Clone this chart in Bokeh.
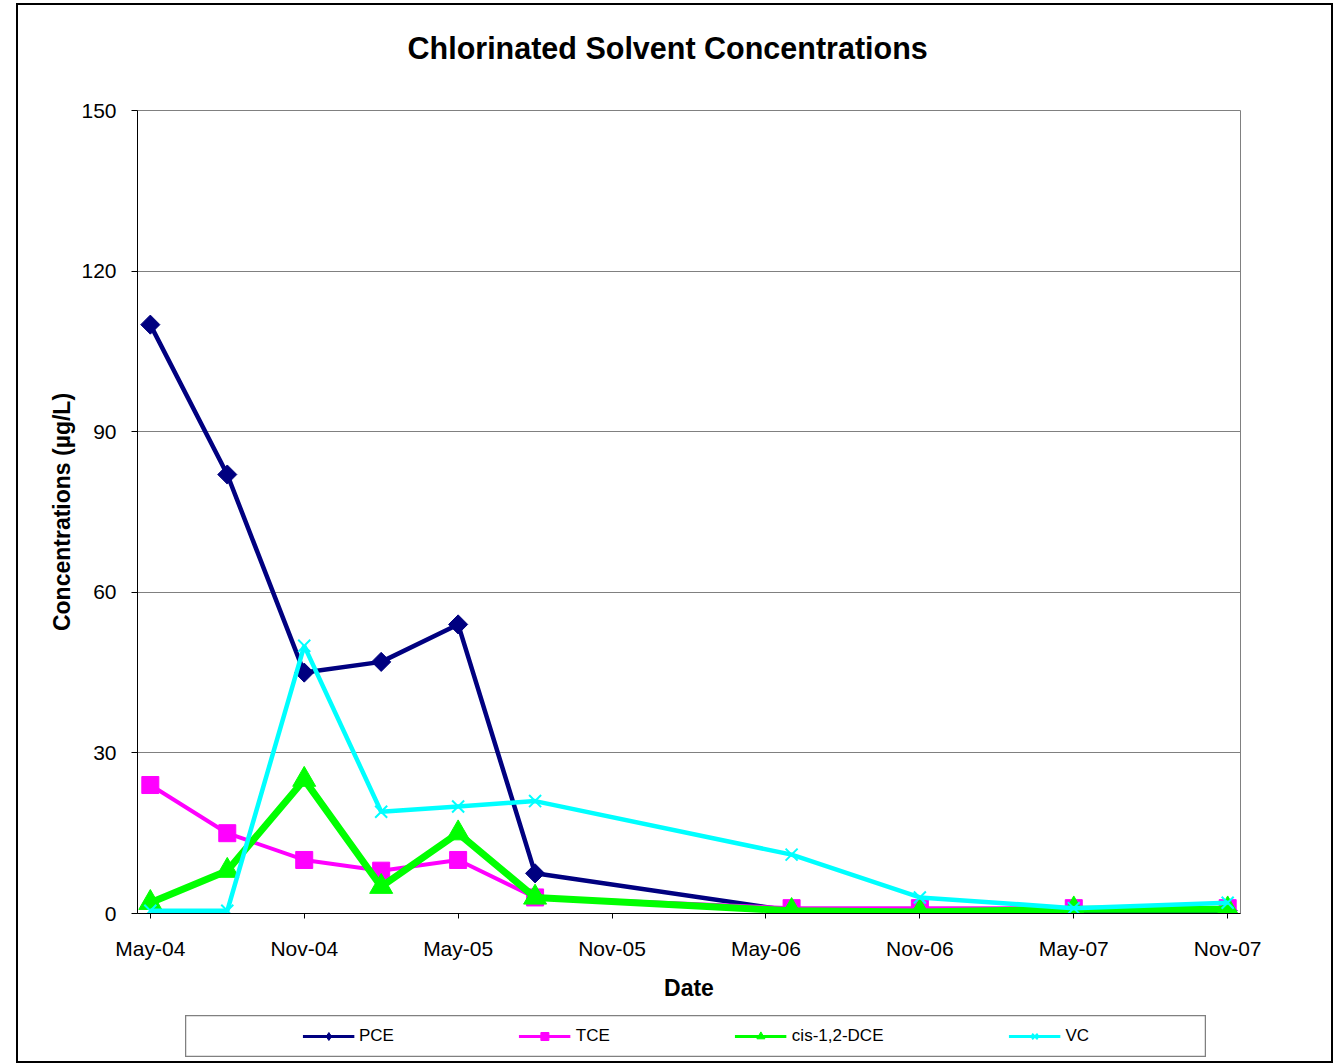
import math
from bokeh.plotting import figure
from bokeh.layouts import column, row
from bokeh.models import (ColumnDataSource, Legend, LegendItem, FixedTicker,
                          Range1d, Spacer, Title)
from bokeh.embed import file_html
from bokeh.resources import INLINE

# months since May-2004
months = [0, 3, 6, 9, 12, 15, 25, 30, 36, 42]
pce = [110, 82, 45, 47, 54, 7.5, 0.5, 0.5, 0.5, 0.5]
tce = [24, 15, 10, 8, 10, 3, 1, 1, 1, 1]
dce = [2, 8, 25, 5, 15, 3, 0.5, 0.3, 0.8, 0.8]
vc = [0.5, 0.5, 50, 19, 20, 21, 11, 3, 1, 2]

tick_months = [0, 6, 12, 18, 24, 30, 36, 42]
tick_labels = ["May-04", "Nov-04", "May-05", "Nov-05", "May-06", "Nov-06", "May-07", "Nov-07"]
y_ticks = [0, 30, 60, 90, 120, 150]

FONT = "Liberation Sans"

p = figure(width=1313, height=1005, output_backend="svg", toolbar_location=None,
           x_range=Range1d(-0.5, 42.5), y_range=Range1d(0, 150),
           min_border_left=119, min_border_right=91, min_border_top=105,
           min_border_bottom=97, title="Chlorinated Solvent Concentrations")
p.title.align = "left"
p.title.offset = 270
p.title.vertical_align = "top"
p.title.standoff = 0
p.title.text_font = FONT
p.title.text_font_size = "30.5px"
p.title.text_font_style = "bold"
p.title.text_color = "black"
# blank spacer between the title and the plot area
p.add_layout(Title(text=" ", text_font_size="1px", standoff=41), "above")
p.background_fill_color = "white"
p.border_fill_color = "white"
p.outline_line_color = "#808080"
p.outline_line_width = 1

p.xgrid.grid_line_color = None
p.ygrid.grid_line_color = "#808080"
p.ygrid.grid_line_width = 1
p.yaxis.ticker = FixedTicker(ticks=y_ticks)
p.xaxis.ticker = FixedTicker(ticks=tick_months)
p.xaxis.major_label_overrides = {m: l for m, l in zip(tick_months, tick_labels)}

for ax in (p.xaxis[0], p.yaxis[0]):
    ax.axis_line_color = "black"
    ax.axis_line_width = 1
    ax.major_tick_line_color = "black"
    ax.minor_tick_line_color = None
    ax.major_tick_in = 0
    ax.major_label_text_font = FONT
    ax.major_label_text_font_size = "21px"
    ax.major_label_text_color = "black"
    ax.axis_label_text_font = FONT
    ax.axis_label_text_font_size = "23px"
    ax.axis_label_text_font_style = "bold"
    ax.axis_label_text_color = "black"

p.xaxis.major_tick_out = 5
p.xaxis.major_label_standoff = 18
p.xaxis.axis_label = "Date"
p.xaxis.axis_label_standoff = 12
p.yaxis.major_tick_out = 6
p.yaxis.major_label_standoff = 15
p.yaxis.axis_label = "Concentrations (µg/L)"
p.yaxis.axis_label_standoff = 3

src = ColumnDataSource(dict(x=months, pce=pce, tce=tce, dce=dce, vc=vc))

# name, column, colour, line width, marker, marker size, angle, legend marker, legend size
series = [
    ("PCE", "pce", "#000080", 4.5, "square", 13.5, math.pi / 4, "diamond", 11),
    ("TCE", "tce", "#FF00FF", 4, "square", 17, 0.0, "square", 9),
    ("cis-1,2-DCE", "dce", "#00FF00", 7, "triangle", 23, 0.0, "triangle", 11),
    ("VC", "vc", "#00FFFF", 4.5, "x", 17, 0.0, "x", 10),
]
for name, col, color, lw, marker, size, ang, lmarker, lsize in series:
    p.line("x", col, source=src, line_color=color, line_width=lw)
    if marker == "x":
        p.scatter("x", col, source=src, marker="x", size=size, line_color=color, line_width=2)
    else:
        p.scatter("x", col, source=src, marker=marker, size=size, angle=ang,
                  fill_color=color, line_color=color)

# legend panel (its own small figure with a frame); its ranges keep the data out of view
lf = figure(width=1021, height=42, output_backend="svg", toolbar_location=None,
            x_range=Range1d(-100, -99), y_range=Range1d(-100, -99),
            x_axis_type=None, y_axis_type=None, min_border=0,
            margin=(5, 0, 4, 0))
lf.grid.visible = False
lf.outline_line_color = "#808080"
lf.outline_line_width = 1.5
items = []
for name, col, color, lw, marker, size, ang, lmarker, lsize in series:
    lr = lf.line("x", col, source=src, line_color=color, line_width=3)
    if lmarker == "x":
        mr = lf.scatter("x", col, source=src, marker="x", size=lsize, line_color=color, line_width=2)
    else:
        mr = lf.scatter("x", col, source=src, marker=lmarker, size=lsize,
                        fill_color=color, line_color=color)
    items.append(LegendItem(label=name, renderers=[lr, mr]))
legend = Legend(items=items, orientation="horizontal", location="center",
                glyph_width=52, glyph_height=20, label_standoff=5, spacing=125,
                padding=8, margin=0, label_text_font=FONT, label_text_font_size="17px",
                label_text_color="black", border_line_alpha=0, background_fill_alpha=0)
lf.add_layout(legend, "center")

layout = column(p, row(Spacer(width=167, height=42), lf),
                margin=(3, 0, 0, 16), spacing=0,
                styles={"border": "2.5px solid black", "background-color": "white"})

open("out.html", "w").write(file_html(layout, INLINE))
